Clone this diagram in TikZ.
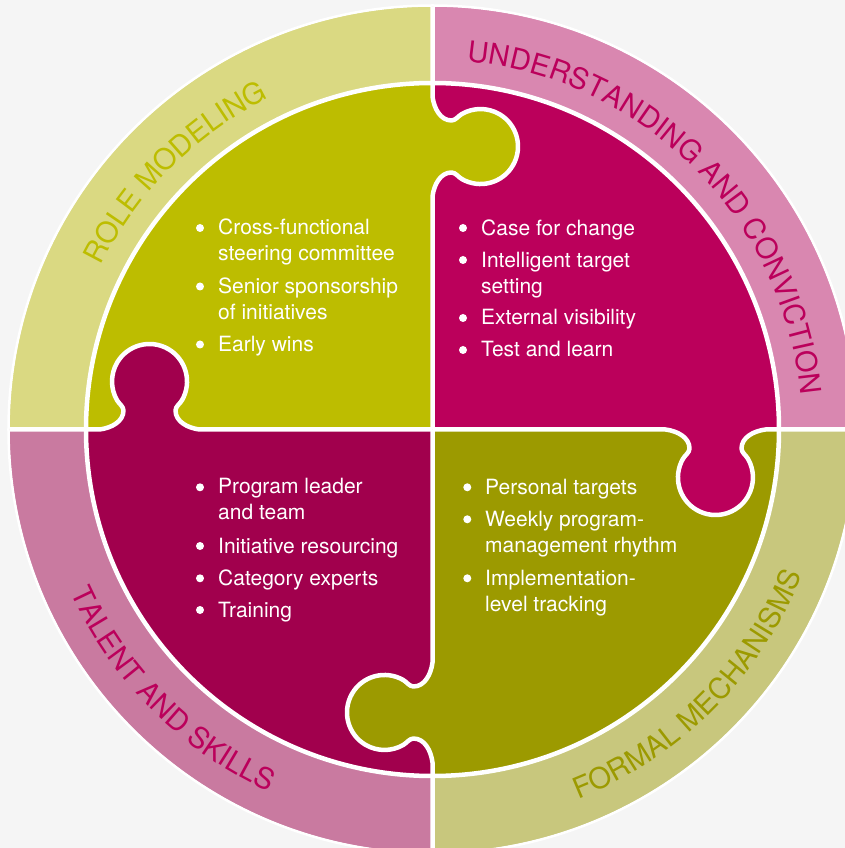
\documentclass[tikz,border=0pt]{standalone}
\usepackage{fontspec}
\newfontfamily\heros{TeX Gyre Heros}
\usetikzlibrary{decorations.text}
\definecolor{bgcol}{HTML}{F5F5F5}
\definecolor{tlin}{HTML}{BDBD00}
\definecolor{trin}{HTML}{BB005B}
\definecolor{blin}{HTML}{A1004D}
\definecolor{brin}{HTML}{9C9A00}
\definecolor{tlring}{HTML}{DAD982}
\definecolor{trring}{HTML}{D987B0}
\definecolor{blring}{HTML}{C97AA0}
\definecolor{brring}{HTML}{C8C77D}
\newcommand\listfont{\heros\fontsize{21}{26}\selectfont}
\newcommand\ringfont{\heros\fontsize{29}{34}\selectfont}
\tikzset{
  listtext/.style={anchor=base west, inner sep=0pt, text=white, font=\listfont},
  bulletdot/.style={circle, fill=white, inner sep=0pt, minimum size=8pt},
  divline/.style={draw=white, line width=4.5pt, line join=round},
}
\begin{document}
\begin{tikzpicture}[x=1pt,y=1pt]
\useasboundingbox (-432.5,-418.5) rectangle (412.5,429.5);
\fill[bgcol] (-432.5,-418.5) rectangle (412.5,429.5);
% outer ring
\fill[trring] (0,0) -- (0:423) arc[start angle=0,end angle=90,radius=423] -- cycle;
\fill[tlring] (0,0) -- (90:423) arc[start angle=90,end angle=180,radius=423] -- cycle;
\fill[blring] (0,0) -- (180:423) arc[start angle=180,end angle=270,radius=423] -- cycle;
\fill[brring] (0,0) -- (270:423) arc[start angle=270,end angle=360,radius=423] -- cycle;
\draw[white, line width=2.5pt] (0,0) circle[radius=424];
% inner puzzle quadrants
\fill[trin] (0,0) -- (0:346.5) arc[start angle=0,end angle=90,radius=346.5] -- cycle;
\fill[tlin] (0,0) -- (90:346.5) arc[start angle=90,end angle=180,radius=346.5] -- cycle;
\fill[blin] (0,0) -- (180:346.5) arc[start angle=180,end angle=270,radius=346.5] -- cycle;
\fill[brin] (0,0) -- (270:346.5) arc[start angle=270,end angle=360,radius=346.5] -- cycle;
\draw[white, line width=4.5pt] (0,0) circle[radius=346.5];
% ring labels
\path[decorate, decoration={text along path, text align=center, text color=tlin,
  text={|\ringfont|ROLE MODELING}}]
  (180:369.6) arc[start angle=180,end angle=90,radius=369.6];
\path[decorate, decoration={text along path, text align=center, text color=trin,
  text={|\ringfont|UNDERSTANDING AND CONVICTION}}]
  (90:369.6) arc[start angle=90,end angle=0,radius=369.6];
\path[decorate, decoration={text along path, text align=center, text color=trin,
  text={|\ringfont|TALENT AND SKILLS}}]
  (180:397) arc[start angle=180,end angle=270,radius=397];
\path[decorate, decoration={text along path, text align=center, text color=brin,
  text={|\ringfont|FORMAL MECHANISMS}}]
  (270:397) arc[start angle=270,end angle=360,radius=397];
% puzzle tabs and dividers
\foreach \r/\c in {0/tlin,-90/trin,-180/brin,90/blin}{
  \begin{scope}[rotate=\r]
    \fill[\c] (-4,233) -- (0,233) .. controls (1.5,245) and (8,257) .. (19,257)
      .. controls (23,257) and (25.8,252.5) .. (29.25,250.5)
      arc[start angle=240,end angle=480,radius=37.5]
      .. controls (25.8,313.5) and (23,309) .. (19,309)
      .. controls (8,309) and (1.5,321) .. (0,333) -- (-4,333) -- cycle;
    \draw[divline] (0,0) -- (0,233) .. controls (1.5,245) and (8,257) .. (19,257)
      .. controls (23,257) and (25.8,252.5) .. (29.25,250.5)
      arc[start angle=240,end angle=480,radius=37.5]
      .. controls (25.8,313.5) and (23,309) .. (19,309)
      .. controls (8,309) and (1.5,321) .. (0,333) -- (0,423);
  \end{scope}
}
% top-left list
\node[bulletdot] (tlb1) at (-232.5,201.5) {};
\node[listtext] (tl1) at (-214.5,194.5) {Cross-functional};
\node[listtext] (tl2) at (-214.5,168.5) {steering committee};
\node[bulletdot] (tlb2) at (-232.5,143) {};
\node[listtext] (tl3) at (-214.5,136) {Senior sponsorship};
\node[listtext] (tl4) at (-214.5,110) {of initiatives};
\node[bulletdot] (tlb3) at (-232.5,85) {};
\node[listtext] (tl5) at (-214.5,78) {Early wins};
% top-right list
\node[bulletdot] (trb1) at (30.5,201.5) {};
\node[listtext] (tr1) at (48.5,194) {Case for change};
\node[bulletdot] (trb2) at (30.5,169.5) {};
\node[listtext] (tr2) at (48.5,162) {Intelligent target};
\node[listtext] (tr3) at (48.5,136) {setting};
\node[bulletdot] (trb3) at (30.5,111.5) {};
\node[listtext] (tr4) at (48.5,105) {External visibility};
\node[bulletdot] (trb4) at (30.5,79.5) {};
\node[listtext] (tr5) at (48.5,73) {Test and learn};
% bottom-left list
\node[bulletdot] (blb1) at (-232.5,-57.8) {};
\node[listtext] (bl1) at (-214.5,-64.5) {Program leader};
\node[listtext] (bl2) at (-214.5,-90.5) {and team};
\node[bulletdot] (blb2) at (-232.5,-116.5) {};
\node[listtext] (bl3) at (-214.5,-123.5) {Initiative resourcing};
\node[bulletdot] (blb3) at (-232.5,-148.8) {};
\node[listtext] (bl4) at (-214.5,-155.8) {Category experts};
\node[bulletdot] (blb4) at (-232.5,-180.5) {};
\node[listtext] (bl5) at (-214.5,-187.5) {Training};
% bottom-right list
\node[bulletdot] (brb1) at (34.8,-57.8) {};
\node[listtext] (br1) at (52.5,-64.8) {Personal targets};
\node[bulletdot] (brb2) at (34.8,-89.8) {};
\node[listtext] (br2) at (52.5,-96.8) {Weekly program-};
\node[listtext] (br3) at (52.5,-122.8) {management rhythm};
\node[bulletdot] (brb3) at (34.8,-148.8) {};
\node[listtext] (br4) at (52.5,-155.8) {Implementation-};
\node[listtext] (br5) at (52.5,-181.8) {level tracking};
\end{tikzpicture}
\end{document}
